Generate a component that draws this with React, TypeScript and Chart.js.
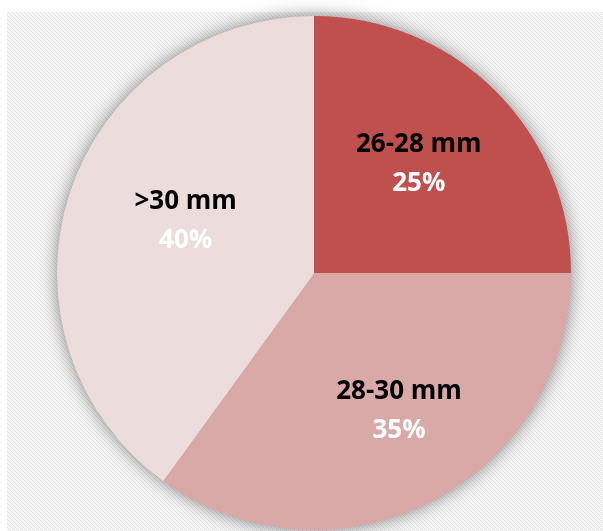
import React, { useEffect, useRef } from "react";
import { Chart, registerables } from "chart.js";

Chart.register(...registerables);

const categories = ["26-28 mm", "28-30 mm", ">30 mm"];
const values = [25, 35, 40];
const percentLabels = ["25%", "35%", "40%"];
const sliceColors = ["#C0504D", "#D9A9A8", "#ECDCDC"];
// label placement (fraction of radius, angle shift in degrees) per slice
const labelRadiusFrac = [0.59, 0.63, 0.54];
const labelAngleShift = [-1.3, -4.7, 4.3];

function makePattern(ctx: CanvasRenderingContext2D) {
  const c = document.createElement("canvas");
  c.width = 4;
  c.height = 4;
  const p = c.getContext("2d")!;
  p.fillStyle = "#f6f6f6";
  p.fillRect(0, 0, 4, 4);
  p.fillStyle = "#e2e2e2";
  for (let i = 0; i < 4; i++) p.fillRect(i, i, 1, 1);
  return ctx.createPattern(c, "repeat");
}

const bgPlugin = {
  id: "bgPlugin",
  beforeDraw(chart: any) {
    const ctx = chart.ctx as CanvasRenderingContext2D;
    ctx.save();
    ctx.fillStyle = "#ffffff";
    ctx.fillRect(0, 0, chart.width, chart.height);
    const pat = makePattern(ctx);
    if (pat) ctx.fillStyle = pat;
    ctx.fillRect(7, 12, chart.width - 7, chart.height - 12);
    ctx.restore();
  },
  beforeDatasetsDraw(chart: any) {
    const meta = chart.getDatasetMeta(0);
    const arc = meta.data[0];
    if (!arc) return;
    const { x, y, outerRadius } = arc.getProps(["x", "y", "outerRadius"], true);
    const ctx = chart.ctx as CanvasRenderingContext2D;
    ctx.save();
    ctx.shadowColor = "rgba(0,0,0,0.5)";
    ctx.shadowBlur = 18;
    ctx.fillStyle = "#ffffff";
    ctx.beginPath();
    ctx.arc(x, y, outerRadius - 1, 0, Math.PI * 2);
    ctx.fill();
    ctx.restore();
  },
  afterDatasetsDraw(chart: any) {
    const meta = chart.getDatasetMeta(0);
    const ctx = chart.ctx as CanvasRenderingContext2D;
    ctx.save();
    ctx.textAlign = "center";
    ctx.textBaseline = "middle";
    meta.data.forEach((arc: any, i: number) => {
      const { x, y, startAngle, endAngle, outerRadius } = arc.getProps(
        ["x", "y", "startAngle", "endAngle", "outerRadius"],
        true
      );
      const mid = (startAngle + endAngle) / 2 + (labelAngleShift[i] * Math.PI) / 180;
      const r = outerRadius * labelRadiusFrac[i];
      const cx = x + Math.cos(mid) * r;
      const cy = y + Math.sin(mid) * r;
      ctx.font = "bold 26px 'Open Sans', 'Noto Sans', sans-serif";
      ctx.fillStyle = "#000000";
      ctx.fillText(categories[i], cx, cy - 19);
      ctx.fillStyle = "#ffffff";
      ctx.fillText(percentLabels[i], cx, cy + 20);
    });
    ctx.restore();
  },
};

export default function App() {
  const ref = useRef<HTMLCanvasElement>(null);
  useEffect(() => {
    document.body.style.margin = "0";
    const chart = new Chart(ref.current!, {
      type: "pie",
      data: {
        labels: categories,
        datasets: [
          {
            data: values,
            backgroundColor: sliceColors,
            borderWidth: 0,
          },
        ],
      },
      options: {
        animation: false,
        responsive: false,
        maintainAspectRatio: false,
        layout: { padding: { left: 57, right: 32, top: 16, bottom: 1 } },
        plugins: {
          legend: { display: false },
          tooltip: { enabled: false },
        },
      },
      plugins: [bgPlugin],
    });
    return () => chart.destroy();
  }, []);
  return (
    <div style={{ position: "absolute", left: 0, top: 0, width: 603, height: 531 }}>
      <canvas ref={ref} width={603} height={531} style={{ width: 603, height: 531 }} />
    </div>
  );
}
